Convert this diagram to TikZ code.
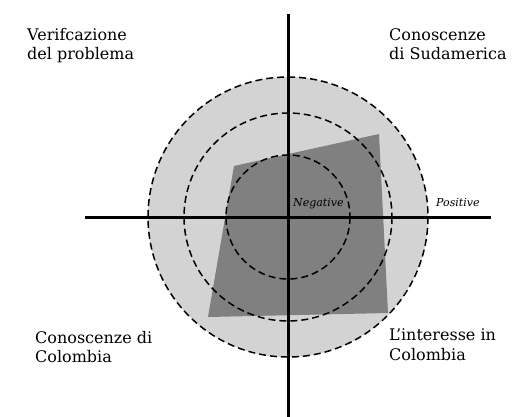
\documentclass[tikz,border=0pt]{standalone}
\usepackage{fontspec}
\setmainfont{DejaVu Serif}
\definecolor{lightfill}{RGB}{211,211,211}
\definecolor{darkfill}{RGB}{128,128,128}
\tikzset{
  ring/.style={draw=black, line width=1.5pt, dash pattern=on 7pt off 4pt},
  axis/.style={draw=black, line width=3pt},
  quadlabel/.style={anchor=north west, inner sep=0pt, align=left, font=\fontsize{16}{19.5}\selectfont},
  signlabel/.style={anchor=base west, inner sep=0pt, font=\fontsize{11}{13}\selectfont\itshape}
}
\begin{document}
\begin{tikzpicture}[x=1pt,y=-1pt]
\useasboundingbox (0,0) rectangle (516,416);
\coordinate (c) at (288,217);
\fill[lightfill] (c) circle[radius=140];
\fill[darkfill] (234,166) -- (379,134) -- (388,313) -- (208,317) -- cycle;
\draw[ring] (c) circle[radius=140];
\draw[ring] (c) circle[radius=104];
\draw[ring] (c) circle[radius=62];
\coordinate (l) at (85,217);
\coordinate (r) at (491,217);
\coordinate (t) at (288,14);
\coordinate (b) at (288,420);
\begin{scope}
\clip (0,0) rectangle (516,416);
\draw[axis] (l) -- (r);
\draw[axis] (t) -- (b);
\end{scope}
\node[quadlabel] (tl) at (27,28) {Verifcazione\\del problema};
\node[quadlabel] (tr) at (389,28) {Conoscenze\\di Sudamerica};
\node[quadlabel] (bl) at (35,331) {Conoscenze di\\Colombia};
\node[quadlabel] (br) at (389,329) {L'interesse in\\Colombia};
\node[signlabel] (neg) at (293,206) {Negative};
\node[signlabel] (pos) at (436,206) {Positive};
\end{tikzpicture}
\end{document}
